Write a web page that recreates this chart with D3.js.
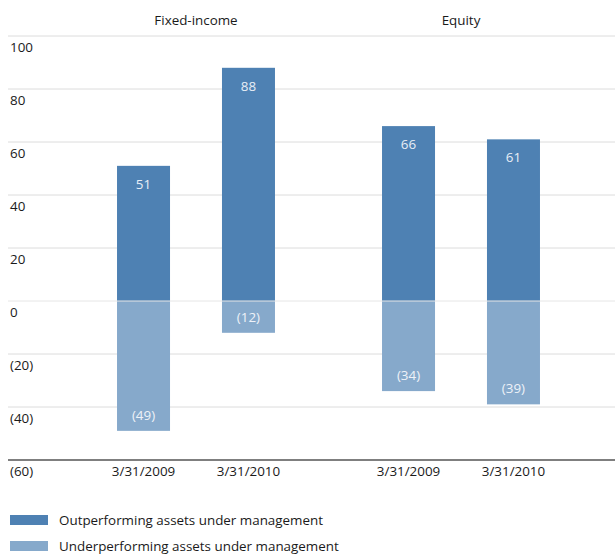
<!DOCTYPE html>
<html>
<head>
<meta charset="utf-8">
<script src="https://cdn.jsdelivr.net/npm/d3@7"></script>
<style>
  body { margin: 0; background: #fff; }
  svg text { font-family: "Open Sans", sans-serif; font-size: 13.4px; fill: #1a1a1a; }
</style>
</head>
<body>
<div id="vis"></div>
<script>
// chart data
var groups = ['Fixed-income', 'Equity'];
var dates = ['3/31/2009', '3/31/2010'];
var outperforming = [51, 88, 66, 61];
var underperforming = [-49, -12, -34, -39];
var yTicks = [100, 80, 60, 40, 20, 0, -20, -40, -60];

var width = 615;
var height = 554;

var svg = d3.select('#vis').append('svg')
  .attr('width', width)
  .attr('height', height);

var y = d3.scaleLinear()
  .domain([-60, 100])
  .range([460, 36]);

// outer scale for the two groups, inner scale for the dates
var x0 = d3.scaleBand()
  .domain(groups)
  .range([63.5, 593.5]);
var x1 = d3.scaleBand()
  .domain(dates)
  .range([0, x0.bandwidth()])
  .paddingInner(0.495)
  .paddingOuter(0.51);

var fmt = function (v) { return v < 0 ? '(' + (-v) + ')' : String(v); };

// gridlines + y labels
svg.selectAll('.grid')
  .data(yTicks.filter(function (d) { return d !== -60 && d !== 0; }))
  .enter().append('line')
  .attr('class', 'grid')
  .attr('x1', 8).attr('x2', width)
  .attr('y1', function (d) { return y(d); })
  .attr('y2', function (d) { return y(d); })
  .attr('stroke', '#dcdcdc')
  .attr('stroke-width', 1);

svg.selectAll('.ylab')
  .data(yTicks)
  .enter().append('text')
  .attr('class', 'ylab')
  .attr('x', 10)
  .attr('y', function (d) { return y(d) + 16; })
  .text(fmt);

var cats = [];
outperforming.forEach(function (v, i) {
  cats.push({
    group: groups[Math.floor(i / 2)],
    date: dates[i % 2],
    pos: v,
    neg: underperforming[i]
  });
});
var bx = function (d) { return x0(d.group) + x1(d.date); };
var bw = x1.bandwidth();

// positive bars
svg.selectAll('.pos')
  .data(cats)
  .enter().append('rect')
  .attr('class', 'pos')
  .attr('x', bx)
  .attr('width', bw)
  .attr('y', function (d) { return y(d.pos); })
  .attr('height', function (d) { return y(0) - y(d.pos); })
  .attr('fill', '#4e81b3');

// negative bars
svg.selectAll('.neg')
  .data(cats)
  .enter().append('rect')
  .attr('class', 'neg')
  .attr('x', bx)
  .attr('width', bw)
  .attr('y', y(0))
  .attr('height', function (d) { return y(d.neg) - y(0); })
  .attr('fill', '#86a9cb');

// zero line on top
svg.append('line')
  .attr('x1', 8).attr('x2', width)
  .attr('y1', y(0)).attr('y2', y(0))
  .attr('stroke', '#e6e6e6')
  .attr('stroke-width', 1);

// bottom axis line
svg.append('line')
  .attr('x1', 8).attr('x2', width)
  .attr('y1', y(-60)).attr('y2', y(-60))
  .attr('stroke', '#000')
  .attr('stroke-width', 1.2);

// value labels
svg.selectAll('.vpos')
  .data(cats)
  .enter().append('text')
  .attr('x', function (d) { return bx(d) + bw / 2; })
  .attr('y', function (d) { return y(d.pos) + 23; })
  .attr('text-anchor', 'middle')
  .style('fill', '#e8eef6')
  .text(function (d) { return fmt(d.pos); });

svg.selectAll('.vneg')
  .data(cats)
  .enter().append('text')
  .attr('x', function (d) { return bx(d) + bw / 2; })
  .attr('y', function (d) { return y(d.neg) - 11; })
  .attr('text-anchor', 'middle')
  .style('fill', '#eef2f8')
  .text(function (d) { return fmt(d.neg); });

// date labels
svg.selectAll('.date')
  .data(cats)
  .enter().append('text')
  .attr('x', function (d) { return bx(d) + bw / 2; })
  .attr('y', 476)
  .attr('text-anchor', 'middle')
  .text(function (d) { return d.date; });

// group headers
svg.selectAll('.group')
  .data(groups)
  .enter().append('text')
  .attr('x', function (d) { return x0(d) + x0.bandwidth() / 2; })
  .attr('y', 25)
  .attr('text-anchor', 'middle')
  .text(function (d) { return d; });

// legend
var legend = [
  { label: 'Outperforming assets under management', color: '#4e81b3' },
  { label: 'Underperforming assets under management', color: '#86a9cb' }
];
var lg = svg.selectAll('.legend')
  .data(legend)
  .enter().append('g')
  .attr('transform', function (d, i) { return 'translate(10,' + (515 + i * 26) + ')'; });
lg.append('rect')
  .attr('width', 38).attr('height', 10)
  .attr('fill', function (d) { return d.color; });
lg.append('text')
  .attr('x', 49).attr('y', 10)
  .text(function (d) { return d.label; });
</script>
</body>
</html>
